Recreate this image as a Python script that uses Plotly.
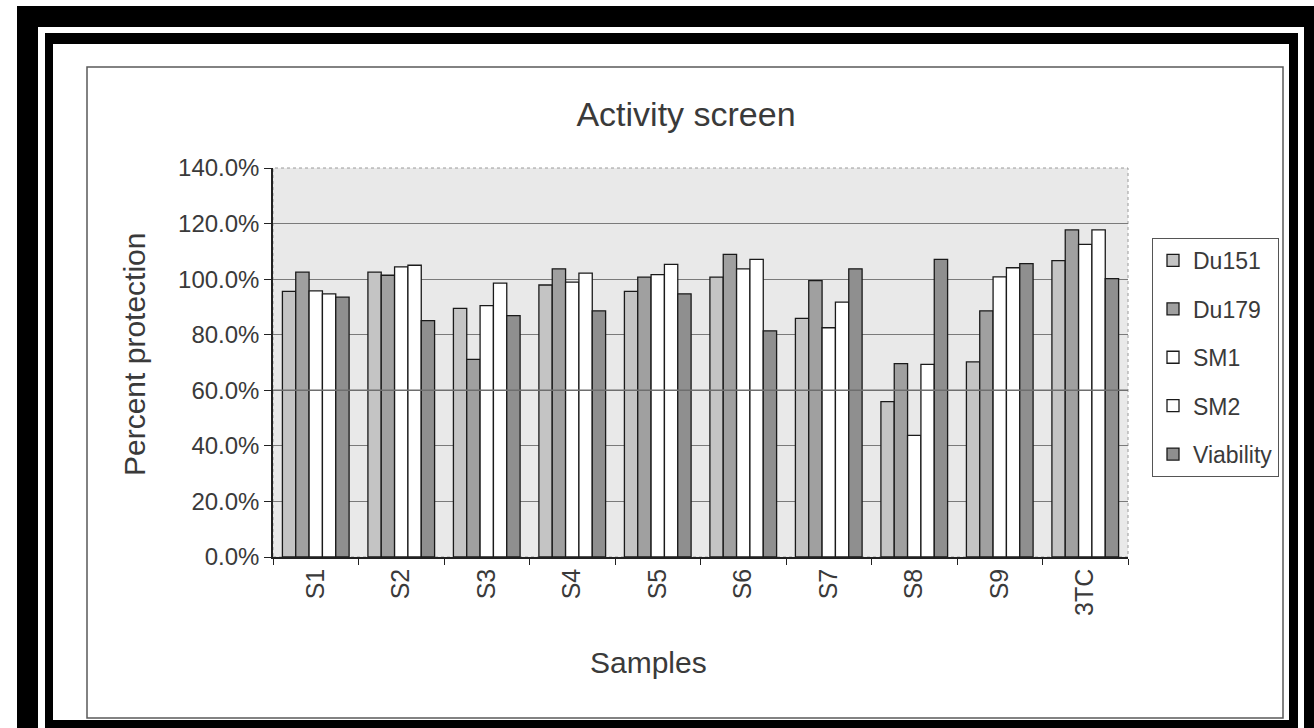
import plotly.graph_objects as go

# ---- data (percent protection) ----
samples = ["S1", "S2", "S3", "S4", "S5", "S6", "S7", "S8", "S9", "3TC"]
du151 = [95.6, 102.5, 89.5, 97.9, 95.6, 100.7, 85.9, 55.9, 70.2, 106.7]
du179 = [102.5, 101.4, 71.1, 103.7, 100.7, 108.9, 99.5, 69.6, 88.6, 117.7]
sm1 = [95.8, 104.4, 90.5, 98.9, 101.6, 103.7, 82.5, 43.8, 100.8, 112.5]
sm2 = [94.7, 105.0, 98.6, 102.2, 105.3, 107.1, 91.7, 69.3, 104.1, 117.7]
viability = [93.5, 85.1, 86.9, 88.6, 94.7, 81.4, 103.7, 107.1, 105.6, 100.2]

series = [
    ("Du151", du151, "#c4c4c4"),
    ("Du179", du179, "#a0a0a0"),
    ("SM1", sm1, "#ffffff"),
    ("SM2", sm2, "#ffffff"),
    ("Viability", viability, "#8f8f8f"),
]

W, H = 1314, 728
PL, PR, PT, PB = 273, 1128, 168, 557  # plot area in pixels


def px(x):
    return (x - PL) / (PR - PL)


def py(y):
    return (PB - y) / (PB - PT)


fig = go.Figure()
for name, vals, col in series:
    fig.add_trace(go.Bar(
        x=samples, y=vals, name=name, legendgroup=name,
        marker=dict(color=col, line=dict(color="#1a1a1a", width=1.3)),
    ))

font_family = "Liberation Sans, Arial, sans-serif"

shapes = []


def rect_px(x0, y0, x1, y1, fill=None, line=None, layer="below"):
    d = dict(type="rect", xref="paper", yref="paper",
             x0=px(x0), x1=px(x1), y0=py(y1), y1=py(y0), layer=layer)
    if fill:
        d["fillcolor"] = fill
        d["line"] = dict(width=0)
    else:
        d["line"] = line
    shapes.append(d)


# outer black frame
rect_px(17, 6, 1320, 27, fill="black")
rect_px(17, 6, 38, 735, fill="black")
rect_px(1304, 6, 1320, 735, fill="black")
# inner black frame
rect_px(45, 33, 1298, 44, fill="black")
rect_px(45, 33, 53, 735, fill="black")
rect_px(1289, 33, 1298, 735, fill="black")
rect_px(45, 720, 1298, 735, fill="black")
# chart area border
rect_px(87, 67, 1283, 718, line=dict(color="#5a5a5a", width=1.5))
# plot area dotted border (top/right)
rect_px(PL, PT, PR, PB, line=dict(color="#9a9a9a", width=1, dash="dot"))
# 60% threshold line drawn over bars
shapes.append(dict(type="line", xref="paper", yref="y", x0=0, x1=1, y0=60, y1=60,
                   line=dict(color="#6e6e6e", width=1.6), layer="above"))

fig.update_layout(
    width=W, height=H,
    margin=dict(l=PL, r=W - PR, t=PT, b=H - PB, pad=0),
    paper_bgcolor="white",
    plot_bgcolor="#e9e9e9",
    barmode="group",
    bargap=0.22,
    bargroupgap=0.0,
    font=dict(family=font_family, color="#3a3a3a"),
    title=dict(text="Activity screen", x=686 / W, xanchor="center",
               y=1 - 114 / H, yanchor="middle",
               font=dict(size=34, color="#3a3a3a", family=font_family)),
    legend=dict(x=px(1152), y=py(238), xanchor="left", yanchor="top",
                bgcolor="white", bordercolor="#555555", borderwidth=1,
                font=dict(size=23, color="#3a3a3a", family=font_family),
                tracegroupgap=15.5, itemwidth=30),
    shapes=shapes,
    annotations=[
        dict(text="Percent protection", xref="paper", yref="paper",
             x=px(134), y=py(355), xanchor="center", yanchor="middle",
             textangle=-90, showarrow=False,
             font=dict(size=30, color="#3a3a3a", family=font_family)),
        dict(text="Samples", xref="paper", yref="paper",
             x=px(648), y=py(662), xanchor="center", yanchor="middle",
             showarrow=False,
             font=dict(size=30, color="#3a3a3a", family=font_family)),
    ],
)

fig.update_yaxes(range=[0, 140], dtick=20, tickformat=".1f", ticksuffix="%",
                 showgrid=True, gridcolor="#7a7a7a", gridwidth=1,
                 showline=True, linecolor="#222222", linewidth=1.5,
                 ticks="outside", ticklen=7, tickcolor="#222222",
                 zeroline=False,
                 tickfont=dict(size=24, color="#3a3a3a", family=font_family))
fig.update_xaxes(tickangle=-90, tickson="boundaries", ticks="outside", ticklen=6,
                 tickcolor="#222222", showline=True, linecolor="#222222",
                 linewidth=1.5, showgrid=False,
                 tickfont=dict(size=25, color="#3a3a3a", family=font_family))

fig.write_html("out.html")
